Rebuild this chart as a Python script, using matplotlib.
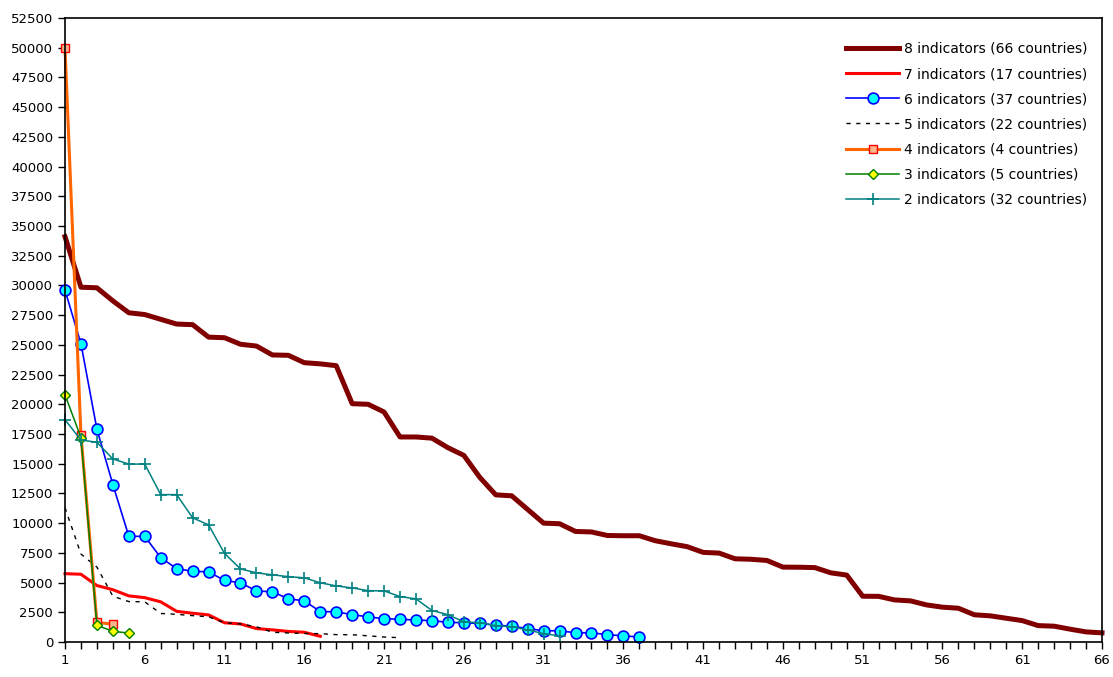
import matplotlib
matplotlib.use('Agg')
import matplotlib.pyplot as plt
import numpy as np

# values, ranked per group
ind8 = [34100, 29850, 29800, 28700, 27700, 27550, 27150, 26750, 26700, 25650,
        25600, 25050, 24900, 24150, 24120, 23500, 23400, 23250, 20050, 20000,
        19350, 17250, 17250, 17150, 16350, 15700, 13850, 12380, 12300, 11150,
        10000, 9950, 9300, 9260, 8960, 8940, 8940, 8520, 8260, 8020,
        7540, 7480, 7000, 6960, 6860, 6300, 6290, 6260, 5820, 5630,
        3850, 3840, 3540, 3460, 3120, 2930, 2840, 2290, 2200, 2000,
        1800, 1380, 1330, 1080, 850, 770]
ind7 = [5750, 5700, 4750, 4400, 3880, 3730, 3380, 2580, 2420, 2280,
        1620, 1520, 1130, 1020, 890, 820, 480]
ind6 = [29600, 25100, 17900, 13250, 8900, 8880, 7100, 6170, 5950, 5900,
        5180, 4980, 4300, 4220, 3640, 3460, 2560, 2540, 2300, 2120,
        1950, 1920, 1840, 1800, 1650, 1620, 1560, 1420, 1330, 1130,
        950, 940, 780, 770, 620, 520, 420]
ind5 = [11300, 7400, 6300, 3850, 3400, 3380, 2400, 2330, 2220, 2120,
        1620, 1520, 1280, 820, 760, 720, 700, 620, 610, 520,
        420, 360]
ind4 = [50000, 17400, 1650, 1500]
ind3 = [20800, 17200, 1400, 900, 750]
ind2 = [18700, 17000, 16800, 15400, 14970, 14970, 12400, 12400, 10450, 9850,
        7450, 6150, 5820, 5650, 5500, 5400, 4980, 4720, 4550, 4320,
        4300, 3820, 3630, 2650, 2300, 1700, 1620, 1380, 1280, 1020,
        700, 520]

labels = ['8 indicators (66 countries)', '7 indicators (17 countries)',
          '6 indicators (37 countries)', '5 indicators (22 countries)',
          '4 indicators (4 countries)', '3 indicators (5 countries)',
          '2 indicators (32 countries)']

fig = plt.figure(figsize=(11.13, 6.77), dpi=100)
ax = fig.add_axes([65/1113, 1-642/677, (1102-65)/1113, (642-18)/677])

def rank(v):
    return np.arange(1, len(v)+1)

ax.plot(rank(ind8), ind8, color='#800000', lw=3.6, label=labels[0], clip_on=False)
ax.plot(rank(ind7), ind7, color='#FF0000', lw=2.2, label=labels[1], clip_on=False)
ax.plot(rank(ind6), ind6, color='#0000FF', lw=1.2, marker='o', ms=7.8,
        mfc='#00FFFF', mec='#0000FF', mew=1.2, label=labels[2], clip_on=False)
ax.plot(rank(ind5), ind5, color='black', lw=1.0, ls=(0, (3, 4)), label=labels[3])
ax.plot(rank(ind4), ind4, color='#FF6600', lw=2.2, marker='s', ms=6,
        mfc='#FFB38A', mec='#FF0000', mew=1.0, label=labels[4], clip_on=False)
ax.plot(rank(ind3), ind3, color='#008000', lw=1.1, marker='D', ms=5,
        mfc='#FFFF00', mec='#008000', mew=1.0, label=labels[5], clip_on=False)
ax.plot(rank(ind2), ind2, color='#008080', lw=1.1, marker='+', ms=9,
        mew=1.2, label=labels[6], clip_on=False)

ax.set_xlim(1, 66)
ax.set_ylim(0, 52500)
ax.set_xticks(np.arange(1, 67, 5))
ax.set_xticks(np.arange(1, 67, 1), minor=True)
ax.set_yticks(np.arange(0, 52501, 2500))
ax.tick_params(axis='both', which='both', direction='out', labelsize=9.5,
               length=5, width=1, colors='black')
ax.tick_params(axis='x', which='minor', length=5)
for s in ax.spines.values():
    s.set_linewidth(1.2)

ax.legend(loc='upper right', bbox_to_anchor=(0.994, 0.975), frameon=False,
          fontsize=10, handlelength=3.8, handletextpad=0.35, labelspacing=0.8,
          borderaxespad=0.2)

fig.savefig('out.png', dpi=100)
